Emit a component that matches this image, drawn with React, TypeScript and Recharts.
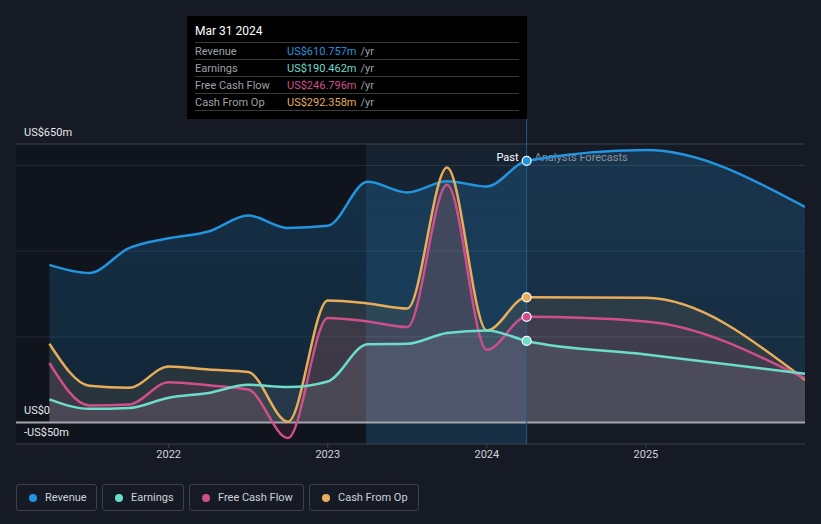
import {
  Area,
  CartesianGrid,
  ComposedChart,
  Line,
  ReferenceArea,
  ReferenceDot,
  ReferenceLine,
  XAxis,
  YAxis,
} from "recharts";

const periods = [2021.25, 2021.5, 2021.75, 2022.0, 2022.25, 2022.5, 2022.75, 2023.0, 2023.25, 2023.5, 2023.75, 2024.0, 2024.25, 2025.0, 2026.0];
const revenue = [368, 349, 407, 430, 446, 483, 454, 459, 562, 537, 563, 551, 610.757, 636, 503];
const earnings = [54, 32, 34, 58, 69, 88, 83, 96, 183, 184, 209, 215, 190.462, 159, 114];
const freeCashFlow = [139, 40, 42, 94, 87, 77, -36, 244, 236, 223, 555, 170, 246.796, 236, 103];
const cashFromOp = [184, 86, 81, 131, 124, 118, 2, 285, 278, 266, 595, 215, 292.358, 291, 100];

const yearTicks = [2022, 2023, 2024, 2025];
const valueTicks = [-50, 0, 200, 400, 600, 650];
const pastAt = 2024.25;

const data = periods.map((t, i) => ({
  t,
  revenue: revenue[i],
  earnings: earnings[i],
  fcf: freeCashFlow[i],
  cfo: cashFromOp[i],
}));

const C = {
  revenue: "#2394df",
  earnings: "#6cdccb",
  fcf: "#d04f8a",
  cfo: "#e8ad5b",
};

const series = [
  { key: "revenue", name: "Revenue", color: C.revenue, value: "US$610.757m", w: 81 },
  { key: "earnings", name: "Earnings", color: C.earnings, value: "US$190.462m", w: 82 },
  { key: "fcf", name: "Free Cash Flow", color: C.fcf, value: "US$246.796m", w: 115 },
  { key: "cfo", name: "Cash From Op", color: C.cfo, value: "US$292.358m", w: 110 },
];

const yLabel = (text: string) => (props: any) => {
  const y = props.viewBox?.y ?? 0;
  return (
    <text x={24} y={y - 12} dominantBaseline="central" fill="#e6e8eb" fontSize={11}>
      {text}
    </text>
  );
};

const PastLabel = (props: any) => {
  const x = props.viewBox?.x ?? 526;
  return (
    <g>
      <text x={x - 8} y={157} textAnchor="end" dominantBaseline="central" fill="#ffffff" fontSize={11}>
        Past
      </text>
      <text x={x + 8} y={157} dominantBaseline="central" fill="#8b9099" fontSize={11}>
        Analysts Forecasts
      </text>
    </g>
  );
};

export default function App() {
  return (
    <div
      style={{
        position: "absolute",
        left: 0,
        top: 0,
        width: 821,
        height: 524,
        background: "#151a24",
        fontFamily: "Roboto, sans-serif",
        overflow: "hidden",
      }}
    >
      <ComposedChart width={821} height={470} data={data} margin={{ top: 144, right: 16, bottom: 0, left: 16 }}>
        <defs>
          <linearGradient id="revFill" x1="0" y1="0" x2="0" y2="1">
            <stop offset="0%" stopColor={C.revenue} stopOpacity={0.22} />
            <stop offset="100%" stopColor={C.revenue} stopOpacity={0.14} />
          </linearGradient>
          <linearGradient id="bandFill" x1="0" y1="0" x2="0" y2="1">
            <stop offset="0%" stopColor={C.revenue} stopOpacity={0.06} />
            <stop offset="100%" stopColor={C.revenue} stopOpacity={0.18} />
          </linearGradient>
        </defs>
        <ReferenceArea x1={2021.04} x2={2023.24} fill="#000000" fillOpacity={0.22} ifOverflow="hidden" />
        <ReferenceArea x1={2023.24} x2={pastAt} fill="url(#bandFill)" fillOpacity={1} ifOverflow="hidden" />
        <CartesianGrid vertical={false} stroke="#2b3340" horizontalValues={[200, 400, 600]} />
        <XAxis
          dataKey="t"
          type="number"
          domain={[2021.04, 2026]}
          ticks={yearTicks}
          allowDataOverflow
          height={26}
          axisLine={false}
          tickLine={{ stroke: "#3d424c" }}
          tickSize={4}
          tick={{ fill: "#d0d3d8", fontSize: 11 }}
        />
        <YAxis type="number" domain={[-50, 650]} ticks={valueTicks} allowDataOverflow hide />
        <ReferenceLine y={650} stroke="#3d434e" label={yLabel("US$650m")} />
        <ReferenceLine y={-50} stroke="#3d434e" label={yLabel("-US$50m")} />

        <Area dataKey="revenue" type="monotone" stroke="none" fill="url(#revFill)" fillOpacity={1} baseValue={0} isAnimationActive={false} />
        <Area dataKey="cfo" type="monotone" stroke="none" fill={C.cfo} fillOpacity={0.1} baseValue={0} isAnimationActive={false} />
        <Area dataKey="fcf" type="monotone" stroke="none" fill={C.fcf} fillOpacity={0.12} baseValue={0} isAnimationActive={false} />
        <Area dataKey="earnings" type="monotone" stroke="none" fill="#c8d3e4" fillOpacity={0.1} baseValue={0} isAnimationActive={false} />

        <ReferenceLine y={0} stroke="#a3a7ad" strokeWidth={2} label={yLabel("US$0")} />
        <ReferenceLine
          segment={[
            { x: pastAt, y: -50 },
            { x: pastAt, y: 710 },
          ]}
          stroke="#275a87"
          strokeWidth={1}
          ifOverflow="visible"
        />
        <ReferenceLine x={pastAt} stroke="none" label={<PastLabel />} />

        <Line dataKey="revenue" type="monotone" stroke={C.revenue} strokeWidth={2.5} dot={false} isAnimationActive={false} />
        <Line dataKey="cfo" type="monotone" stroke={C.cfo} strokeWidth={2.5} dot={false} isAnimationActive={false} />
        <Line dataKey="fcf" type="monotone" stroke={C.fcf} strokeWidth={2.5} dot={false} isAnimationActive={false} />
        <Line dataKey="earnings" type="monotone" stroke={C.earnings} strokeWidth={2.5} dot={false} isAnimationActive={false} />

        <ReferenceDot x={pastAt} y={revenue[12]} r={4.5} fill={C.revenue} stroke="#ffffff" strokeWidth={1.2} />
        <ReferenceDot x={pastAt} y={cashFromOp[12]} r={4.5} fill={C.cfo} stroke="#ffffff" strokeWidth={1.2} />
        <ReferenceDot x={pastAt} y={freeCashFlow[12]} r={4.5} fill={C.fcf} stroke="#ffffff" strokeWidth={1.2} />
        <ReferenceDot x={pastAt} y={earnings[12]} r={4.5} fill={C.earnings} stroke="#ffffff" strokeWidth={1.2} />
      </ComposedChart>

      <div
        style={{
          position: "absolute",
          left: 187,
          top: 16,
          width: 340,
          height: 103,
          background: "#000000",
          boxSizing: "border-box",
          padding: "0 8px",
          fontSize: 11,
        }}
      >
        <div style={{ height: 26, lineHeight: "31px", color: "#ffffff", fontSize: 12 }}>Mar 31 2024</div>
        {series.map((s) => (
          <div
            key={s.key}
            style={{
              height: 17,
              lineHeight: "17px",
              borderTop: "1px solid #3a3a3a",
              display: "flex",
              boxSizing: "border-box",
            }}
          >
            <span style={{ width: 92, color: "#9ea2a8" }}>{s.name}</span>
            <span style={{ color: s.color }}>{s.value}</span>
            <span style={{ color: "#9ea2a8", marginLeft: 4 }}>/yr</span>
          </div>
        ))}
        <div style={{ borderTop: "1px solid #3a3a3a" }} />
      </div>

      <div style={{ position: "absolute", left: 16, top: 484, display: "flex", gap: 5 }}>
        {series.map((s) => (
          <div
            key={s.key}
            style={{
              width: s.w,
              height: 27,
              boxSizing: "border-box",
              border: "1px solid #3b404a",
              borderRadius: 3,
              display: "flex",
              alignItems: "center",
              paddingLeft: 12,
              color: "#cfd2d7",
              fontSize: 11,
              whiteSpace: "nowrap",
            }}
          >
            <span
              style={{
                width: 8,
                height: 8,
                borderRadius: 4,
                background: s.color,
                marginRight: 8,
                display: "inline-block",
                flexShrink: 0,
              }}
            />
            {s.name}
          </div>
        ))}
      </div>
    </div>
  );
}
